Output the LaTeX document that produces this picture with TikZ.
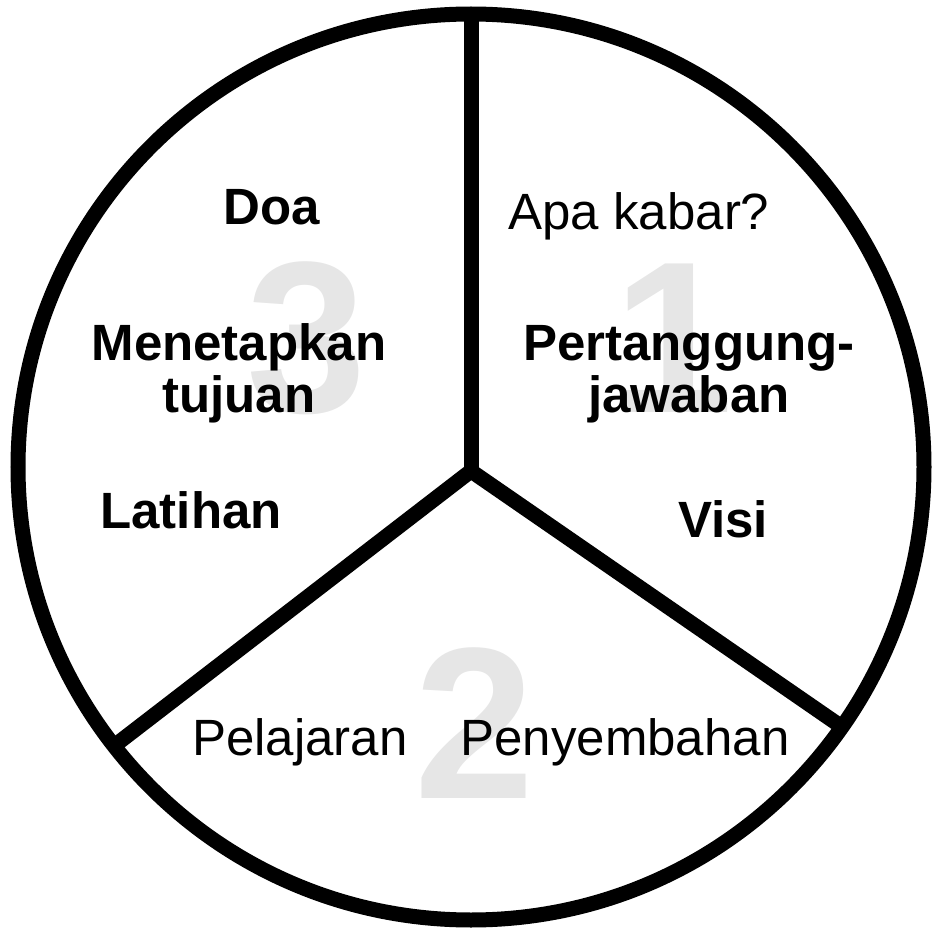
\documentclass[tikz,border=0pt]{standalone}
\usepackage{fontspec}
\setmainfont{Liberation Sans}
\usepackage{tikz}
\usetikzlibrary{positioning}
\definecolor{numgray}{RGB}{230,230,230}
\tikzset{
  bignum/.style={anchor=base, inner sep=0pt, text=numgray,
                 font=\fontsize{108}{108}\selectfont\bfseries},
  boldtxt/.style={anchor=base, inner sep=0pt, align=center,
                  font=\fontsize{25.5}{26}\selectfont\bfseries},
  plaintxt/.style={anchor=base, inner sep=0pt,
                   font=\fontsize{25.5}{26}\selectfont},
  rimline/.style={line width=7.5pt, line join=miter}
}
\newcommand{\piecircle}{\draw[rimline] (ctr) circle[radius=453];}

\begin{document}
\begin{tikzpicture}[x=0.5pt, y=-0.5pt]
	\useasboundingbox (0,0) rectangle (938,931);

	% big numbers in the back
	\node[bignum] (num3) at (307,412) {3};
	\node[bignum] (num1) at (674,412) {1};
	\node[bignum] (num2) at (475,798) {2};

	% section 3
	\node[boldtxt] (doa) at (272,225) {Doa};
	\node[boldtxt] (tujuan) at (239,412) {Menetapkan\\tujuan};
	\node[boldtxt] (latihan) at (191,528) {Latihan};

	% section 1
	\node[plaintxt] (kabar) at (639,229) {Apa kabar?};
	\node[boldtxt] (jawab) at (689,412) {Pertanggung-\\jawaban};
	\node[boldtxt] (visi) at (723,537) {Visi};

	% section 2
	\node[plaintxt] (pelajaran) at (300,755) {Pelajaran};
	\node[plaintxt] (sembah) at (625,755) {Penyembahan};

	% circle and dividers
	\coordinate (ctr) at (471,467);
	\coordinate (hub) at (471,471);
	\coordinate (rimtop) at (471,14);
	\coordinate (rimright) at (842,727);
	\coordinate (rimleft) at (114,746);
	\piecircle
	\draw[rimline] (rimtop) -- (hub);
	\draw[rimline] (rimleft) -- (hub) -- (rimright);

\end{tikzpicture}
\end{document}
